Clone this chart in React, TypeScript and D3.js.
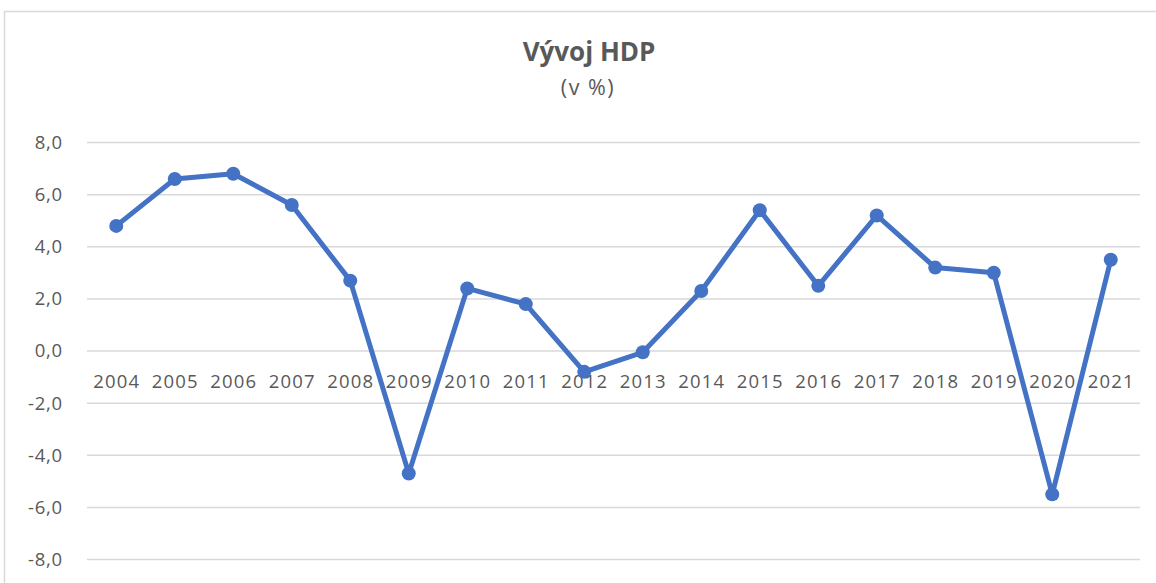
import React from "react";
import * as d3 from "d3";

const years = ["2004","2005","2006","2007","2008","2009","2010","2011","2012","2013","2014","2015","2016","2017","2018","2019","2020","2021"];
const gdp = [4.8, 6.6, 6.8, 5.6, 2.7, -4.7, 2.4, 1.8, -0.8, -0.05, 2.3, 5.4, 2.5, 5.2, 3.2, 3.0, -5.5, 3.5];
const yTicks = [-8, -6, -4, -2, 0, 2, 4, 6, 8];
const title = "Vývoj HDP";
const subtitle = "(v %)";

const W = 1156, H = 583;
const FONT = "'Open Sans', sans-serif";
const TEXT = "#595959";

export default function App() {
  const x = d3.scaleBand<string>().domain(years).range([87, 1140]);
  const y = d3.scaleLinear().domain([-8, 8]).range([559.5, 142.5]);
  const fmt = (v: number) => d3.format(".1f")(v).replace(".", ",").replace("−", "-");
  const line = d3.line<number>()
    .x((_, i) => (x(years[i]) as number) + x.bandwidth() / 2)
    .y((d) => y(d));

  return (
    <svg width={W} height={H} style={{ position: "absolute", left: 0, top: 0, display: "block" }}>
      <rect x={0} y={0} width={W} height={H} fill="#fff" />
      <rect x={4.5} y={11.5} width={W + 20} height={H + 20} fill="#fff" stroke="#d9d9d9" strokeWidth={1.5} />
      <text x={589} y={61} textAnchor="middle" fontFamily={FONT} fontWeight="bold" fontSize={26} fill={TEXT}>{title}</text>
      <text x={588} y={95} textAnchor="middle" fontFamily={FONT} fontSize={21.5} letterSpacing={1.5} fill={TEXT}>{subtitle}</text>
      {yTicks.map((t) => (
        <g key={t}>
          <line x1={87} x2={1140} y1={y(t)} y2={y(t)} stroke="#d9d9d9" strokeWidth={1.5} />
          <text x={63} y={y(t)} dy="0.35em" textAnchor="end" fontFamily={FONT} fontSize={18.5} letterSpacing={0.8} fill={TEXT}>{fmt(t)}</text>
        </g>
      ))}
      {years.map((yr) => (
        <text key={yr} x={(x(yr) as number) + x.bandwidth() / 2 + 0.5} y={y(0) + 31} dy="0.35em" textAnchor="middle" fontFamily={FONT} fontSize={18.5} letterSpacing={1.2} fill={TEXT}>{yr}</text>
      ))}
      <path d={line(gdp) || ""} fill="none" stroke="#4472C4" strokeWidth={5} strokeLinejoin="round" />
      {gdp.map((v, i) => (
        <circle key={i} cx={(x(years[i]) as number) + x.bandwidth() / 2} cy={y(v)} r={7} fill="#4472C4" />
      ))}
    </svg>
  );
}
